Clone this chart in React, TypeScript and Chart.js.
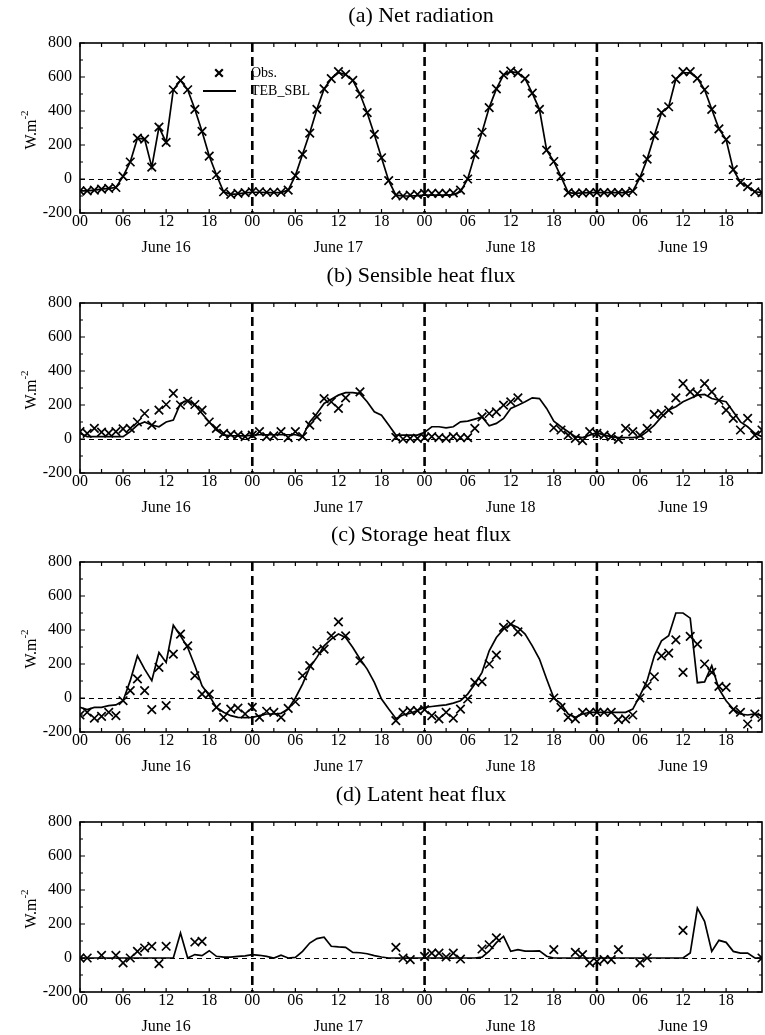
import React, { useEffect, useRef } from 'react';
import { Chart, registerables } from 'chart.js';

Chart.register(...registerables);

const FONT = "'Liberation Serif', 'Times New Roman', serif";
const N = null;

const HOUR_LABELS = ['00', '06', '12', '18'];
const DAY_LABELS = ['June 16', 'June 17', 'June 18', 'June 19'];
const DAY_BOUNDARIES = [24, 48, 72];
const X_TICKS = [0, 3, 6, 9, 12, 15, 18, 21, 24, 27, 30, 33, 36, 39, 42, 45, 48, 51, 54, 57, 60, 63, 66, 69, 72, 75, 78, 81, 84, 87, 90, 93];
const Y_TICKS = [-200, -100, 0, 100, 200, 300, 400, 500, 600, 700, 800];
const Y_LABELED = [-200, 0, 200, 400, 600, 800];
const PANEL_TITLES = ['(a) Net radiation', '(b) Sensible heat flux', '(c) Storage heat flux', '(d) Latent heat flux'];
const Y_UNIT = 'W.m';
const Y_UNIT_SUP = '-2';
const LEGEND_LABELS = ['Obs.', 'TEB_SBL'];

// hourly values, June 16 00h .. June 19 23h
const netObs = [
  -70, -70, -65, -60, -55, -50, 15, 100, 240, 235, 70, 305, 215, 525, 580, 525, 410, 280, 135, 25, -75, -90, -85, -80,
  -75, -75, -78, -78, -78, -65, 20, 145, 270, 410, 530, 590, 632, 615, 580, 500, 390, 262, 125, -10, -95, -100, -95, -90,
  -85, -85, -85, -85, -82, -65, 0, 143, 275, 420, 530, 612, 635, 624, 590, 505, 410, 170, 103, 14, -80, -85, -82, -80,
  -80, -80, -80, -80, -80, -72, 8, 117, 255, 390, 425, 588, 632, 632, 592, 525, 410, 295, 232, 55, -20, -45, -75, -80,
];
const netModel = [
  -70, -70, -65, -60, -55, -50, 15, 100, 240, 235, 70, 305, 215, 525, 580, 525, 410, 280, 135, 25, -75, -90, -88, -82,
  -78, -78, -80, -80, -80, -65, 20, 145, 270, 410, 530, 590, 625, 615, 580, 500, 390, 262, 125, -10, -95, -100, -100, -98,
  -95, -95, -95, -95, -92, -75, 0, 143, 275, 420, 530, 612, 632, 624, 590, 505, 410, 170, 103, 14, -80, -85, -82, -80,
  -80, -80, -80, -80, -80, -72, 8, 117, 255, 390, 425, 588, 625, 625, 592, 525, 410, 295, 232, 55, -20, -45, -75, -80,
];

const sensObs = [
  43, 33, 62, 40, 35, 43, 60, 62, 100, 150, 82, 170, 203, 268, 200, 222, 203, 170, 100, 62, 33, 27, 23, 14,
  23, 43, 14, 18, 43, 8, 43, 14, 82, 130, 238, 219, 180, 242, N, 277, N, N, N, N, 10, 0, 4, 4,
  8, 14, 8, 4, 14, 8, 8, 62, 130, 150, 160, 199, 219, 242, N, N, N, N, 66, 53, 23, 4, -10, 43,
  33, 23, 14, -2, 62, 43, 23, 62, 145, 150, 170, 242, 326, 277, 267, 326, 277, 228, 170, 121, 53, 121, 23, 53,
];
const sensModel = [
  33, 14, 14, 14, 14, 14, 14, 43, 82, 100, 82, 72, 100, 111, 209, 228, 199, 150, 100, 53, 23, 20, 18, 18,
  23, 25, 25, 25, 25, 25, 25, 14, 100, 150, 209, 234, 258, 273, 273, 267, 219, 160, 140, 82, 23, 23, 23, 23,
  39, 72, 72, 66, 72, 101, 105, 117, 130, 78, 92, 121, 180, 199, 219, 242, 238, 180, 105, 72, 43, 14, 8, 23,
  37, 23, 14, 8, 8, 8, 14, 43, 82, 130, 170, 190, 219, 238, 258, 262, 238, 228, 219, 160, 101, 72, 33, 14,
];

const storObs = [
  -100, -84, -119, -108, -84, -104, -16, 43, 112, 43, -68, 180, -45, 258, 376, 307, 131, 23, 23, -55, -114, -65, -59, -94,
  -55, -114, -78, -84, -114, -61, -22, 131, 190, 278, 288, 366, 448, 366, N, 219, N, N, N, N, -133, -84, -74, -74,
  -68, -104, -123, -84, -119, -65, -6, 92, 96, 200, 252, 415, 434, 389, N, N, N, N, 0, -55, -114, -123, -84, -84,
  -84, -84, -84, -127, -123, -100, 0, 72, 125, 248, 264, 342, 151, 362, 317, 200, 151, 68, 62, -68, -84, -153, -94, -114,
];
const storModel = [
  -55, -68, -55, -55, -45, -41, -16, 102, 248, 170, 102, 268, 209, 428, 366, 297, 190, 72, 14, -55, -84, -104, -114, -115,
  -114, -104, -94, -94, -90, -65, 0, 82, 180, 239, 307, 346, 376, 356, 297, 229, 170, 92, -6, -65, -120, -100, -90, -74,
  -55, -50, -45, -40, -30, -16, 23, 82, 151, 278, 356, 405, 434, 415, 376, 307, 229, 112, 0, -35, -94, -114, -94, -84,
  -84, -84, -84, -84, -84, -65, 14, 102, 248, 336, 366, 500, 500, 470, 90, 95, 190, 53, -16, -65, -94, -100, -94, -104,
];

const latObs = [
  0, 0, N, 16, N, 16, -29, 0, 39, 59, 69, -33, 69, N, N, N, 94, 98, N, N, N, N, N, N,
  N, N, N, N, N, N, N, N, N, N, N, N, N, N, N, N, N, N, N, N, 63, 0, -10, N,
  10, 29, 29, 6, 29, -6, N, N, 53, 78, 118, N, N, N, N, N, N, N, 49, N, N, 33, 20, -29,
  -20, -10, -10, 49, N, N, -29, 0, N, N, N, N, 163, N, N, N, N, N, N, N, N, N, N, 0,
];
const latModel = [
  0, 0, 0, 0, 0, 0, 0, 0, 0, 0, 0, 0, 0, 0, 147, 0, 20, 14, 43, 10, 5, 5, 10, 12,
  20, 16, 10, 0, 16, 0, 4, 39, 88, 114, 122, 69, 65, 63, 33, 31, 25, 14, 6, 0, 0, 0, 0, 0,
  0, 0, 0, 0, 0, 0, 0, 0, 5, 40, 90, 127, 39, 49, 40, 40, 42, 10, 0, 0, 0, 0, 0, 0,
  0, 0, 0, 0, 0, 0, 0, 0, 0, 0, 0, 0, 0, 29, 294, 216, 39, 104, 92, 39, 29, 29, 0, 0,
];

const PANELS = [
  { title: PANEL_TITLES[0], obs: netObs, model: netModel, legend: true },
  { title: PANEL_TITLES[1], obs: sensObs, model: sensModel, legend: false },
  { title: PANEL_TITLES[2], obs: storObs, model: storModel, legend: false },
  { title: PANEL_TITLES[3], obs: latObs, model: latModel, legend: false },
];
const PANEL_TOPS = [0, 260, 519, 779];

function drawCross(ctx: CanvasRenderingContext2D, x: number, y: number, r: number) {
  ctx.beginPath();
  ctx.moveTo(x - r, y - r); ctx.lineTo(x + r, y + r);
  ctx.moveTo(x - r, y + r); ctx.lineTo(x + r, y - r);
  ctx.stroke();
}

const framePlugin = {
  id: 'frame',
  beforeDatasetsDraw(chart: any) {
    const { ctx, chartArea: a, scales } = chart;
    const x = scales.x, y = scales.y;
    ctx.save();
    ctx.strokeStyle = '#000';
    ctx.lineWidth = 1;
    ctx.setLineDash([5, 4]);
    const y0 = Math.round(y.getPixelForValue(0)) + 0.5;
    ctx.beginPath(); ctx.moveTo(a.left, y0); ctx.lineTo(a.right, y0); ctx.stroke();
    ctx.lineWidth = 2.6;
    ctx.setLineDash([9, 5]);
    for (const d of DAY_BOUNDARIES) {
      const px = x.getPixelForValue(d);
      ctx.beginPath(); ctx.moveTo(px, a.top); ctx.lineTo(px, a.bottom); ctx.stroke();
    }
    ctx.restore();
  },
  afterDraw(chart: any, _args: any, opts: any) {
    const { ctx, chartArea: a, scales } = chart;
    const x = scales.x, y = scales.y;
    ctx.save();
    ctx.strokeStyle = '#000';
    ctx.fillStyle = '#000';
    ctx.setLineDash([]);
    // frame
    ctx.lineWidth = 1.6;
    ctx.strokeRect(a.left, a.top, a.right - a.left, a.bottom - a.top);
    // inward ticks
    ctx.lineWidth = 1.2;
    ctx.beginPath();
    for (const h of X_TICKS) {
      const px = x.getPixelForValue(h);
      ctx.moveTo(px, a.top); ctx.lineTo(px, a.top + 4);
      ctx.moveTo(px, a.bottom); ctx.lineTo(px, a.bottom - 4);
    }
    for (const v of Y_TICKS) {
      const py = y.getPixelForValue(v);
      const len = Y_LABELED.includes(v) ? 5 : 3;
      ctx.moveTo(a.left, py); ctx.lineTo(a.left + len, py);
      ctx.moveTo(a.right, py); ctx.lineTo(a.right - len, py);
    }
    ctx.stroke();

    // panel title
    ctx.font = `22px ${FONT}`;
    ctx.textAlign = 'center';
    ctx.textBaseline = 'middle';
    ctx.fillText(opts.title, (a.left + a.right) / 2, 16);

    // day labels
    ctx.font = `16px ${FONT}`;
    DAY_LABELS.forEach((lbl, i) => {
      ctx.fillText(lbl, x.getPixelForValue(12 + 24 * i), a.bottom + 35);
    });

    // y-axis title
    ctx.save();
    ctx.translate(32, (a.top + a.bottom) / 2 + 2);
    ctx.rotate(-Math.PI / 2);
    ctx.font = `16px ${FONT}`;
    const w1 = ctx.measureText(Y_UNIT).width;
    ctx.font = `11px ${FONT}`;
    const w2 = ctx.measureText(Y_UNIT_SUP).width;
    const start = -(w1 + w2) / 2;
    ctx.textAlign = 'left';
    ctx.font = `16px ${FONT}`;
    ctx.fillText(Y_UNIT, start, 0);
    ctx.font = `11px ${FONT}`;
    ctx.fillText(Y_UNIT_SUP, start + w1, -7);
    ctx.restore();

    // legend
    if (opts.legend) {
      ctx.lineWidth = 2.2;
      drawCross(ctx, 219, 73, 3.8);
      ctx.lineWidth = 1.8;
      ctx.beginPath(); ctx.moveTo(203, 91); ctx.lineTo(236, 91); ctx.stroke();
      ctx.font = `14px ${FONT}`;
      ctx.textAlign = 'left';
      ctx.fillText(LEGEND_LABELS[0], 251, 73);
      ctx.fillText(LEGEND_LABELS[1], 251, 91);
    }
    ctx.restore();
  },
};

function Panel({ cfg, top }: { cfg: any; top: number }) {
  const ref = useRef<HTMLCanvasElement | null>(null);
  useEffect(() => {
    if (!ref.current) return;
    const toPts = (arr: (number | null)[]) => arr.map((v, i) => ({ x: i, y: v }));
    const chart = new Chart(ref.current, {
      type: 'line',
      data: {
        datasets: [
          {
            label: LEGEND_LABELS[1],
            data: toPts(cfg.model),
            borderColor: '#000',
            borderWidth: 1.7,
            pointRadius: 0,
            tension: 0,
            fill: false,
          },
          {
            label: LEGEND_LABELS[0],
            data: toPts(cfg.obs),
            showLine: false,
            borderColor: '#000',
            backgroundColor: '#000',
            pointStyle: 'crossRot',
            pointRadius: 6,
            pointBorderWidth: 1.7,
            pointBorderColor: '#000',
          },
        ],
      },
      options: {
        responsive: false,
        animation: false,
        events: [],
        layout: { autoPadding: false, padding: { top: 43, right: 3, left: 0, bottom: 0 } },
        plugins: {
          legend: { display: false },
          tooltip: { enabled: false },
          title: { display: false },
          frame: { title: cfg.title, legend: cfg.legend },
        } as any,
        scales: {
          x: {
            type: 'linear',
            min: 0,
            max: 95,
            afterBuildTicks: (s: any) => { s.ticks = X_TICKS.map((v) => ({ value: v })); },
            afterFit: (s: any) => { s.height = 47; s.paddingLeft = 0; s.paddingRight = 0; },
            grid: { display: false, drawTicks: false },
            border: { display: false },
            ticks: {
              autoSkip: false,
              maxRotation: 0,
              padding: 1,
              color: '#000',
              font: { family: FONT, size: 16, lineHeight: 1 },
              callback: (v: any) => (Number(v) % 6 === 0 ? HOUR_LABELS[(Number(v) % 24) / 6] : ''),
            },
          },
          y: {
            min: -200,
            max: 800,
            afterBuildTicks: (s: any) => { s.ticks = Y_LABELED.map((v) => ({ value: v })); },
            afterFit: (s: any) => { s.width = 80; s.paddingTop = 0; s.paddingBottom = 0; },
            grid: { display: false, drawTicks: false },
            border: { display: false },
            ticks: {
              padding: 8,
              color: '#000',
              font: { family: FONT, size: 16 },
              callback: (v: any) => String(v),
            },
          },
        },
      },
      plugins: [framePlugin as any],
    });
    return () => chart.destroy();
  }, [cfg]);
  return (
    <canvas
      ref={ref}
      width={765}
      height={260}
      style={{ position: 'absolute', left: 0, top, width: 765, height: 260, display: 'block' }}
    />
  );
}

export default function App() {
  return (
    <div style={{ position: 'absolute', left: 0, top: 0, width: 765, height: 1035, overflow: 'hidden', background: '#fff' }}>
      {PANELS.map((p, i) => (
        <Panel key={i} cfg={p} top={PANEL_TOPS[i]} />
      ))}
    </div>
  );
}
